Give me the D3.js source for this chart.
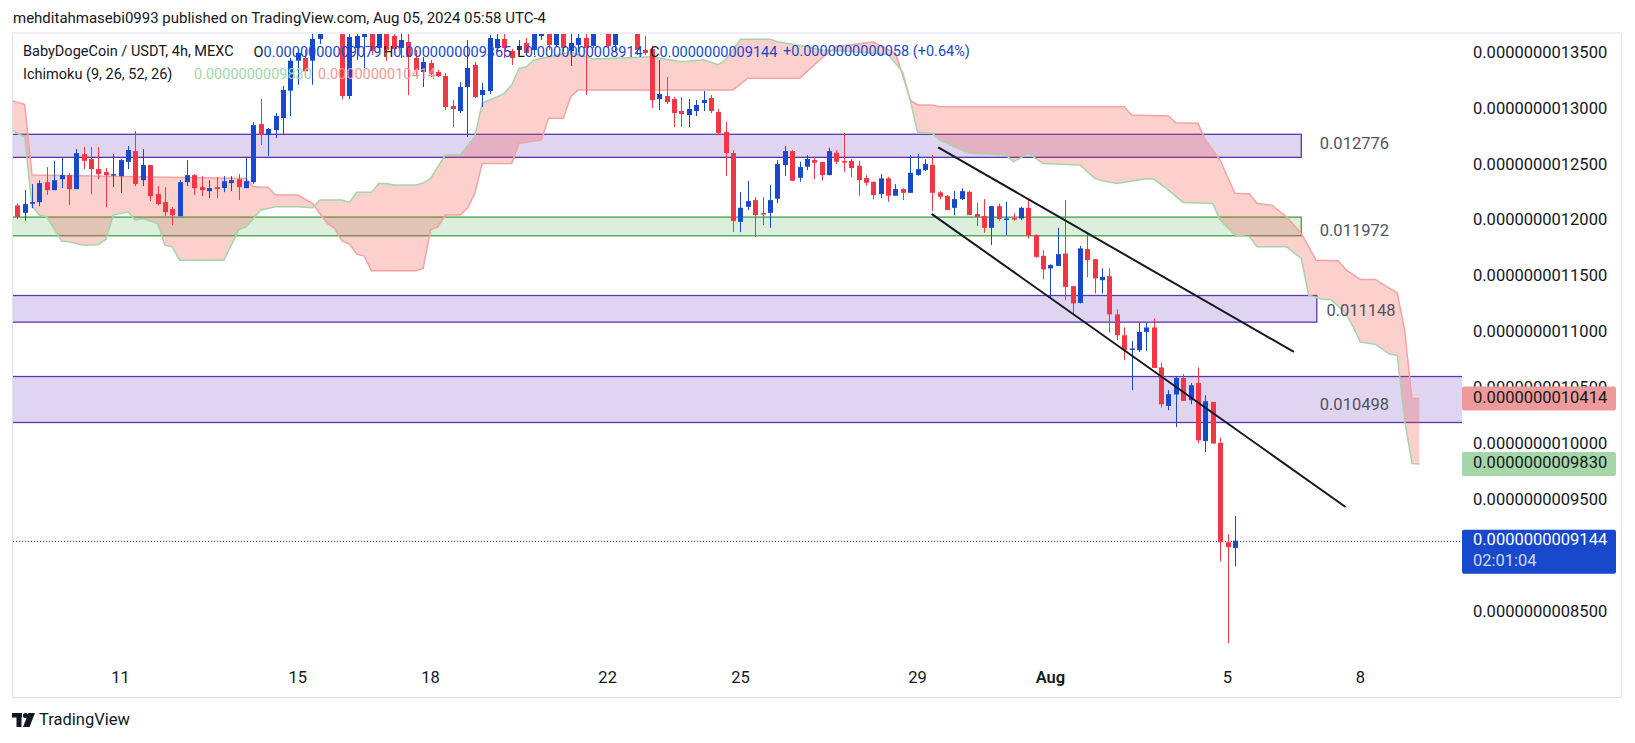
<!DOCTYPE html>
<html><head><meta charset="utf-8">
<script src="https://cdn.jsdelivr.net/npm/d3@7"></script>
<style>
body{margin:0;background:#fff;}
svg{display:block;font-family:Roboto,"Noto Sans",sans-serif;}
</style>
</head><body>
<svg id="chart" width="1635" height="743"></svg>
<script>
// ---------------- DATA ----------------
const firstBar = Date.UTC(2024, 6, 8, 16);   // Jul 08 16:00 (chart time, UTC-4)
const barHours = 4;
const symbolTitle = "BabyDogeCoin / USDT, 4h, MEXC";
const indicatorTitle = "Ichimoku (9, 26, 52, 26)";
const publishLine = "mehditahmasebi0993 published on TradingView.com, Aug 05, 2024 05:58 UTC-4";
const countdown = "02:01:04";

// prices in units of 1e-13 USDT
const openP = [
12140,12074,12155,12170,12348,12277,12375,12411,12286,12599,
12554,12465,12438,12411,12402,12530,12626,12366,12501,12241,
12170,12107,12044,12348,12411,12304,12268,12304,12295,12340,
12375,12295,12348,12867,12769,12814,12921,13166,13434,13458,
13434,13628,13790,13700,13760,13118,13548,13646,13700,13548,
13680,13655,13548,13601,13458,13333,13413,13333,13297,13029,
12984,13199,13396,13127,13163,13548,13628,13521,13530,13592,
13530,13655,13680,13574,13680,13521,13574,13637,13566,13690,
13680,13574,13760,13700,13680,13530,13539,13091,13118,13091,
12984,12948,12984,13056,13100,12975,12796,12608,11994,12128,
12188,12072,12074,12200,12501,12626,12387,12486,12546,12528,
12412,12611,12537,12537,12495,12385,12352,12242,12382,12227,
12286,12253,12412,12456,12501,12257,12224,12119,12197,12262,
12063,12045,11940,12134,12021,12027,12024,12119,11875,11690,
11577,11600,11711,11419,11269,11750,11660,11472,11508,11166,
10980,10858,10846,11010,11049,10692,10348,10450,10598,10399,
10554,10035,10384,10017,9130,9079];
const highP = [
12158,12277,12331,12366,12483,12536,12566,12429,12644,12662,
12662,12662,12474,12599,12554,12671,12805,12644,12501,12313,
12304,12125,12366,12545,12420,12402,12366,12393,12402,12402,
12420,12572,12885,13091,12832,12966,13207,13458,13533,13533,
13673,13798,13850,13800,13800,13682,13690,13720,13730,13710,
13720,13700,13673,13673,13530,13467,13440,13351,13324,13082,
13243,13619,13422,13235,13664,13673,13682,13539,13619,13637,
13720,13750,13710,13710,13710,13673,13690,13690,13710,13800,
13710,13710,13800,13800,13710,13655,13566,13440,13288,13109,
13109,13091,13082,13163,13127,13002,12886,12635,12260,12358,
12215,12215,12322,12546,12671,12635,12531,12590,12575,12528,
12656,12635,12787,12552,12537,12409,12352,12421,12396,12331,
12293,12590,12599,12552,12590,12268,12233,12271,12293,12271,
12164,12197,12134,12158,12173,12069,12128,12197,11881,11741,
11615,11940,12188,11419,11779,11904,11660,11577,11577,11210,
11049,10929,11090,11090,11130,10736,10489,10614,10632,10554,
10692,10444,10384,10065,9200,9365];
const lowP = [
12020,12003,12116,12134,12235,12277,12295,12143,12286,12465,
12241,12375,12125,12304,12250,12465,12313,12313,12179,12143,
12044,11964,12044,12313,12232,12223,12205,12205,12259,12268,
12188,12295,12331,12680,12581,12742,12769,12939,13219,13279,
13219,13583,13700,13690,13088,13091,13440,13369,13485,13512,
13431,13485,13458,13127,13306,13199,13288,13288,12993,12841,
12966,12752,13100,13020,13136,13512,13458,13396,13485,13476,
13485,13619,13530,13557,13512,13387,13512,13127,13548,13670,
13548,13512,13680,13680,13485,13485,13011,12993,13047,12841,
12841,12841,12939,12984,12966,12769,12403,11902,11902,12099,
11857,11964,11940,12161,12403,12358,12352,12456,12376,12361,
12409,12510,12441,12394,12227,12316,12194,12208,12173,12227,
12188,12253,12405,12447,12092,12194,12099,12054,12188,12054,
11955,11895,11785,12003,11875,12003,12009,11845,11672,11481,
11323,11600,11294,11159,11264,11497,11353,11353,11005,10936,
10757,10489,10831,10840,10688,10334,10310,10160,10393,10363,
10017,9937,10012,8959,8228,8914];
const closeP = [
12038,12152,12170,12340,12277,12366,12411,12286,12608,12539,
12465,12420,12411,12420,12545,12635,12331,12501,12223,12152,
12080,12053,12348,12411,12295,12277,12295,12286,12357,12366,
12304,12357,12858,12769,12823,12939,13172,13434,13503,13339,
13628,13753,13720,13760,13118,13646,13655,13690,13521,13680,
13530,13539,13619,13467,13351,13422,13315,13297,13020,13002,
13199,13369,13109,13172,13637,13628,13548,13458,13566,13503,
13690,13720,13574,13680,13548,13592,13637,13548,13680,13760,
13566,13680,13700,13760,13530,13503,13082,13136,13065,12966,
12957,13002,13038,13082,12984,12787,12608,12000,12119,12179,
12054,12063,12188,12510,12626,12361,12483,12555,12522,12412,
12626,12531,12531,12474,12367,12343,12233,12382,12227,12286,
12253,12432,12465,12510,12253,12218,12099,12197,12268,12054,
12039,11940,12134,12018,12024,12021,12119,11875,11681,11568,
11607,11705,11412,11264,11756,11651,11488,11502,11166,10980,
10846,10862,11010,11049,10688,10363,10453,10598,10393,10533,
10041,10390,10012,9130,9086,9144];

// Ichimoku leading spans (bar index, price), already displaced forward
const leadA = [[-1,12829],[0,12785],[1,12754],[2,12134],[3,12054],[4,12039],[6,11821],[7,11815],[9,11785],[11,11792],[12,11836],[13,12054],[15,12083],[16,12009],[17,12024],[19,11980],[20,11785],[21,11770],[22,11651],[28,11651],[30,11920],[31,11949],[33,12099],[35,12128],[38,12128],[40,12119],[41,12188],[44,12188],[45,12167],[46,12257],[48,12257],[49,12337],[50,12337],[51,12322],[54,12322],[55,12340],[56,12382],[58,12590],[60,12590],[62,12754],[63,13056],[65,13109],[66,13142],[67,13217],[68,13366],[69,13380],[70,13440],[75,13512],[78,13449],[86,13470],[88,13447],[90,13425],[93,13443],[95,13398],[96,13443],[98,13625],[102,13625],[103,13604],[107,13559],[109,13530],[113,13515],[118,13490],[120,13330],[121,13082],[122,12794],[124,12785],[125,12725],[129,12606],[134,12591],[135,12531],[137,12606],[139,12516],[144,12501],[146,12382],[147,12361],[149,12337],[151,12358],[153,12379],[154,12376],[156,12277],[158,12167],[162,12158],[163,12009],[165,11875],[167,11860],[168,11770],[172,11770],[174,11666],[175,11338],[177,11300],[178,11300],[180,11177],[181,11060],[182,10920],[184,10900],[186,10810],[187,10802],[188,10220],[189,9833],[190,9830]];
const leadB = [[-1,13082],[1,13044],[2,12412],[31,12382],[32,12307],[34,12302],[35,12233],[38,12233],[40,12158],[42,11980],[43,11935],[44,11824],[45,11794],[46,11705],[47,11687],[48,11556],[54,11556],[55,11577],[56,11920],[57,11949],[58,12054],[60,12054],[61,12114],[62,12248],[63,12516],[67,12516],[68,12695],[71,12725],[72,12919],[74,12919],[75,13112],[76,13172],[97,13172],[99,13277],[106,13277],[107,13336],[109,13456],[111,13560],[116,13600],[119,13500],[120,13300],[121,13082],[122,13038],[124,13038],[125,13023],[150,13023],[151,12948],[156,12939],[157,12879],[160,12874],[161,12725],[163,12546],[165,12248],[167,12242],[168,12158],[170,12143],[172,12039],[174,11890],[176,11651],[179,11645],[180,11568],[182,11479],[184,11479],[186,11398],[187,11359],[188,11025],[189,10414],[190,10414]];

// drawn zones: top price, bottom price, right end (bar), label, label price, kind
const zoneTop    = [12776, 12036, 11335, 10611];
const zoneBottom = [12570, 11869, 11097, 10200];
const zoneEndBar = [174.0, 174.0, 176.1, 260];
const zoneLabel  = ["0.012776", "0.011972", "0.011148", "0.010498"];
const zoneLabelBar   = [176.5, 176.5, 177.4, 176.5];
const zoneLabelPrice = [12687, 11903, 11187, 10352];
const zoneKind   = ["purple", "green", "purple", "purple"];

// channel trend lines [bar, price]
const trendUpper = [[124.8, 12659], [173.0, 10831]];
const trendLower = [[123.9, 12065], [180.0, 9445]];

// axes
const priceTicks = [13500, 13000, 12500, 12000, 11500, 11000, 10500, 10000, 9500, 8500];
const timeTickDates  = ["2024-07-11","2024-07-15","2024-07-18","2024-07-22","2024-07-25","2024-07-29","2024-08-01","2024-08-05","2024-08-08"];
const timeTickLabels = ["11","15","18","22","25","29","Aug","5","8"];

// ---------------- DRAW ----------------
const BLUE = "#1848cc", RED = "#f23645", INK = "#131722";
const svg = d3.select("#chart");
const fmt = v => "0." + String(Math.round(v)).padStart(13, "0");
const barDate = i => new Date(firstBar + i * barHours * 3600e3);

const x = d3.scaleUtc()
  .domain([barDate(0), barDate(164)])
  .range([17.3, 1227.5]);
const y = d3.scaleLinear().domain([8500, 13500]).range([612.7, 53.3]);
const xb = i => x(barDate(i));

const plot = {l: 13, r: 1462, t: 34, b: 662};
svg.append("rect").attr("width", 1635).attr("height", 743).attr("fill", "#fff");
svg.append("defs").append("clipPath").attr("id", "clip")
  .append("rect").attr("x", plot.l).attr("y", plot.t)
  .attr("width", plot.r - plot.l).attr("height", plot.b - plot.t);

// frame
svg.append("rect").attr("x", 12.5).attr("y", 33.5).attr("width", 1609).attr("height", 664)
  .attr("fill", "none").attr("stroke", "#e0e3eb").attr("stroke-width", 1);
svg.append("line").attr("x1", 12).attr("x2", 1622).attr("y1", 33).attr("y2", 33)
  .attr("stroke", "#eef0f6").attr("stroke-width", 2);

const g = svg.append("g").attr("clip-path", "url(#clip)");

// zones
zoneTop.forEach((top, k) => {
  const purple = zoneKind[k] === "purple";
  g.append("rect")
    .attr("x", xb(-6)).attr("y", y(top))
    .attr("width", xb(zoneEndBar[k]) - xb(-6))
    .attr("height", y(zoneBottom[k]) - y(top))
    .attr("fill", purple ? "rgba(126,87,194,0.25)" : "rgba(76,175,80,0.2)")
    .attr("stroke", purple ? "#5e35b1" : "#43a047").attr("stroke-width", 1.3);
});

// cloud
const pts = arr => arr.map(d => [xb(d[0]), y(d[1])]);
const line = d3.line();
const poly = pts(leadA).concat(pts(leadB).reverse());
g.append("path").attr("d", line(poly) + "Z").attr("fill", "rgba(244,67,54,0.25)");
g.append("path").attr("d", line(pts(leadB))).attr("fill", "none")
  .attr("stroke", "#f4a3a3").attr("stroke-width", 1.5);
g.append("path").attr("d", line(pts(leadA))).attr("fill", "none")
  .attr("stroke", "#a5d6a7").attr("stroke-width", 1.5);

// zone labels
zoneLabel.forEach((t, k) => {
  svg.append("text").attr("x", xb(zoneLabelBar[k])).attr("y", y(zoneLabelPrice[k]))
    .attr("dominant-baseline", "middle").attr("font-size", 16.5).attr("fill", "#50535e").text(t);
});

// last price dotted line
const last = closeP.length - 1;
g.append("line").attr("x1", plot.l).attr("x2", plot.r)
  .attr("y1", Math.round(y(closeP[last])) + 0.5).attr("y2", Math.round(y(closeP[last])) + 0.5)
  .attr("stroke", BLUE).attr("stroke-width", 1).attr("stroke-dasharray", "1,2");

// candles
const candles = g.append("g");
openP.forEach((o, i) => {
  const c = closeP[i], col = c >= o ? BLUE : RED;
  const cx = Math.round(xb(i)) + 0.5;
  candles.append("line").attr("x1", cx).attr("x2", cx)
    .attr("y1", y(highP[i])).attr("y2", y(lowP[i])).attr("stroke", col).attr("stroke-width", 1);
  const top = y(Math.max(o, c)), bot = y(Math.min(o, c));
  candles.append("rect").attr("x", cx - 2.5).attr("width", 5)
    .attr("y", top).attr("height", Math.max(1.5, bot - top)).attr("fill", col);
});

// trend lines
[trendUpper, trendLower].forEach(tl => {
  g.append("path").attr("d", line(pts(tl))).attr("stroke", "#131722")
    .attr("stroke-width", 2).attr("fill", "none");
});

// price axis
priceTicks.forEach(v => {
  svg.append("text").attr("x", 1473).attr("y", y(v)).attr("dominant-baseline", "middle")
    .attr("font-size", 16.5).attr("fill", INK).text(fmt(v));
});

// time axis
timeTickDates.forEach((d, k) => {
  const [yy, mm, dd] = d.split("-").map(Number);
  svg.append("text").attr("x", x(new Date(Date.UTC(yy, mm - 1, dd)))).attr("y", 679)
    .attr("text-anchor", "middle").attr("dominant-baseline", "middle")
    .attr("font-size", 16.5).attr("font-weight", timeTickLabels[k] === "Aug" ? 600 : 400)
    .attr("fill", INK).text(timeTickLabels[k]);
});

// price labels on the scale
const spanAlast = leadA[leadA.length - 1][1], spanBlast = leadB[leadB.length - 1][1];
const tag = (v, fill, color) => {
  svg.append("rect").attr("x", 1462).attr("y", y(v) - 12).attr("width", 154).attr("height", 24)
    .attr("rx", 2).attr("fill", fill);
  svg.append("text").attr("x", 1473).attr("y", y(v)).attr("dominant-baseline", "middle")
    .attr("font-size", 16.5).attr("fill", color).text(fmt(v));
};
tag(spanBlast, "#ef9a9a", INK);
tag(spanAlast, "#a5d6a7", INK);
svg.append("rect").attr("x", 1462).attr("y", y(closeP[last]) - 11).attr("width", 154).attr("height", 44)
  .attr("rx", 2).attr("fill", BLUE);
svg.append("text").attr("x", 1473).attr("y", y(closeP[last])).attr("dominant-baseline", "middle")
  .attr("font-size", 16.5).attr("fill", "#fff").text(fmt(closeP[last]));
svg.append("text").attr("x", 1473).attr("y", y(closeP[last]) + 20.5).attr("dominant-baseline", "middle")
  .attr("font-size", 16.5).attr("fill", "rgba(255,255,255,0.8)").text(countdown);

// header
svg.append("text").attr("x", 13).attr("y", 19).attr("dominant-baseline", "middle")
  .attr("font-size", 15).attr("fill", INK).text(publishLine);

// legend line 1
const prevClose = closeP[last - 1];
const chg = closeP[last] - prevClose;
svg.append("text").attr("x", 23).attr("y", 52.5).attr("dominant-baseline", "middle")
  .attr("font-size", 14.5).attr("fill", INK).text(symbolTitle);
[["O", openP[last], 253.5], ["H", highP[last], 383], ["L", lowP[last], 517], ["C", closeP[last], 650]]
  .forEach(([k, v, px]) => {
    svg.append("text").attr("x", px).attr("y", 52.5).attr("dominant-baseline", "middle")
      .attr("font-size", 14.5).attr("fill", INK)
      .call(t => { t.append("tspan").text(k); t.append("tspan").attr("fill", BLUE).text(fmt(v)); });
  });
svg.append("text").attr("x", 783).attr("y", 52.5).attr("dominant-baseline", "middle")
  .attr("font-size", 14.5).attr("fill", BLUE)
  .text("+" + fmt(chg) + " (+" + (chg / prevClose * 100).toFixed(2) + "%)");

// legend line 2
svg.append("text").attr("x", 23).attr("y", 75).attr("dominant-baseline", "middle")
  .attr("font-size", 14.5).attr("fill", INK).text(indicatorTitle);
svg.append("text").attr("x", 194).attr("y", 75).attr("dominant-baseline", "middle")
  .attr("font-size", 14.5).attr("fill", "#a5d6a7").text(fmt(spanAlast));
svg.append("text").attr("x", 318).attr("y", 75).attr("dominant-baseline", "middle")
  .attr("font-size", 14.5).attr("fill", "#ef9a9a").text(fmt(spanBlast));

// footer logo
const logo = svg.append("g").attr("fill", INK);
logo.append("rect").attr("x", 12).attr("y", 713).attr("width", 10).attr("height", 4.5);
logo.append("rect").attr("x", 16.5).attr("y", 713).attr("width", 5).attr("height", 14);
logo.append("circle").attr("cx", 25.5).attr("cy", 715.5).attr("r", 2.6);
logo.append("path").attr("d", "M28.5,713 L35,713 L29.5,727 L23,727 Z");
svg.append("text").attr("x", 39).attr("y", 720.5).attr("dominant-baseline", "middle")
  .attr("font-size", 16.5).attr("fill", INK).text("TradingView");
</script>
</body></html>
